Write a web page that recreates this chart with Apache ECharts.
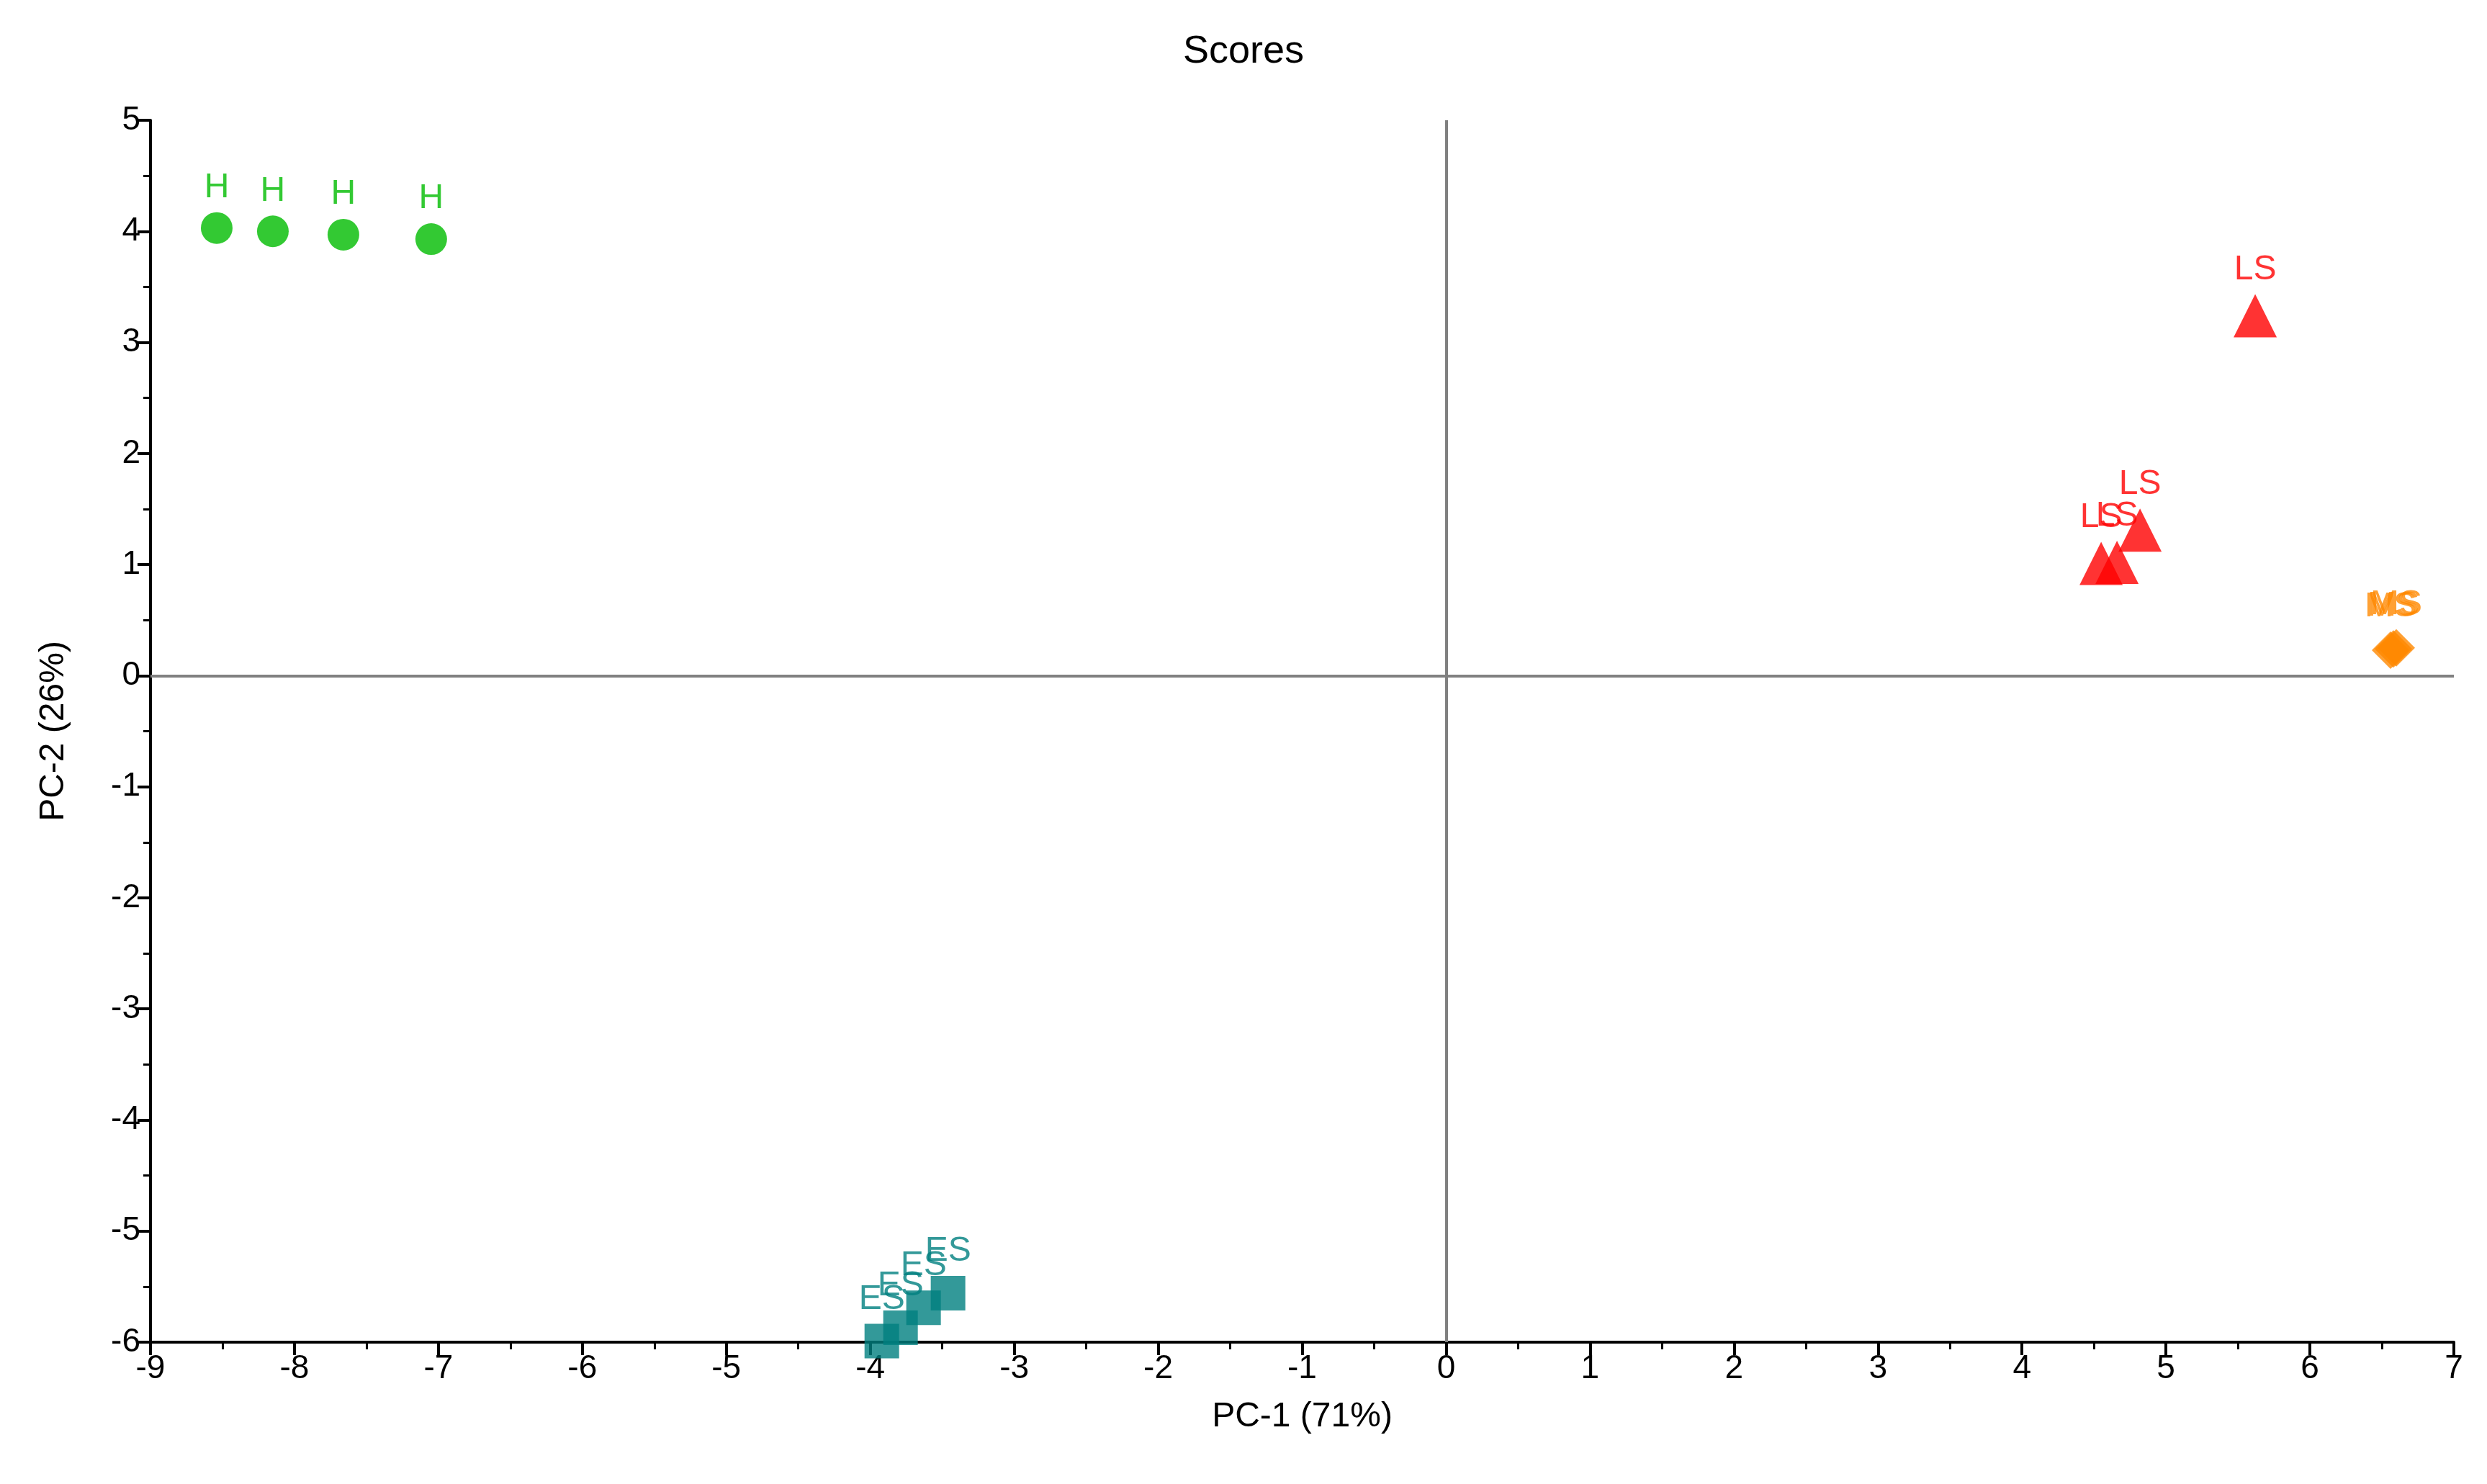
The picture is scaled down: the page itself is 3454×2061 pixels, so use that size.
<!DOCTYPE html>
<html><head><meta charset="utf-8">
<script src="https://cdn.jsdelivr.net/npm/echarts@6/dist/echarts.min.js"></script>
<style>html,body{margin:0;padding:0;background:#fff}#c{width:3454px;height:2061px}</style>
</head><body><div id="c"></div>
<script>
const H = [[-8.54,4.03],[-8.15,4.0],[-7.66,3.97],[-7.05,3.93]];
const LS = [[5.62,3.24],[4.82,1.31],[4.55,1.01],[4.66,1.02]];
const MS = [[6.56,0.23],[6.58,0.24],[6.60,0.25]];
const ES = [[-3.92,-5.99],[-3.79,-5.87],[-3.63,-5.69],[-3.46,-5.56]];
const xTicks = {min:-9,max:7,interval:1};
const yTicks = {min:-6,max:5,interval:1};
const font = 'Liberation Sans, Arial, sans-serif';
function ser(name,data,symbol,size,color){
  return {name,type:'scatter',data,symbol,symbolSize:size,itemStyle:{color},
    label:{show:true,formatter:name,position:'top',distance:10,color,fontSize:48,fontFamily:font}};
}
const c = echarts.init(document.getElementById('c'));
const axisCommon = {
  axisLine:{onZero:false,lineStyle:{color:'#000',width:4}},
  axisTick:{inside:false,length:18,lineStyle:{color:'#000',width:4}},
  minorTick:{show:true,splitNumber:2,length:10,lineStyle:{color:'#000',width:3}},
  splitLine:{show:false},
  axisLabel:{color:'#000',fontSize:46,fontFamily:font,margin:14},
  nameTextStyle:{color:'#000',fontSize:48,fontFamily:font},
  nameLocation:'middle'
};
const s = [
  ser('H',H,'circle',44,'#00BB00'),
  ser('LS',LS,'triangle',60,'#FF0000'),
  ser('MS',MS,'diamond',52,'#FF8800'),
  ser('ES',ES,'rect',48,'#008080')
];
s[0].markLine = {silent:true,symbol:'none',label:{show:false},lineStyle:{color:'#808080',width:4,type:'solid'},
  data:[{xAxis:0},{yAxis:0}]};
c.setOption({
  animation:false,
  title:{text:'Scores',left:'center',top:40,textStyle:{fontSize:54,fontWeight:'normal',color:'#000',fontFamily:font}},
  grid:{left:209,right:46,top:167,bottom:197},
  xAxis:Object.assign({type:'value',name:'PC-1 (71%)',nameGap:80},xTicks,axisCommon),
  yAxis:Object.assign({type:'value',name:'PC-2 (26%)',nameGap:110},yTicks,axisCommon),
  series:s
});
</script></body></html>
